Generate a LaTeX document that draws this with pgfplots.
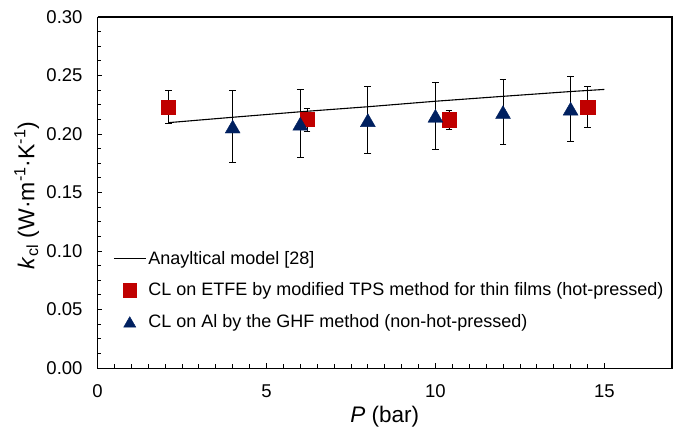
\documentclass[border=0pt]{standalone}
\usepackage{fontspec}
\setmainfont{Liberation Sans}
\usepackage{pgfplots}
\pgfplotsset{compat=1.18}
\definecolor{cred}{HTML}{C00000}
\definecolor{cblue}{HTML}{002060}
\pgfplotsset{
  linelegend/.style={legend image code/.code={\draw[##1] (0bp,0bp) -- (32bp,0bp);}},
  sqlegend/.style={legend image code/.code={\draw[##1, mark size=6.8bp] plot coordinates {(16bp,0bp)};}},
  trilegend/.style={legend image code/.code={\draw[##1, mark size=7bp] plot coordinates {(16bp,0bp)};}},
}
\begin{document}
\begin{tikzpicture}
\useasboundingbox (-97.5bp,-60bp) rectangle (583.5bp,368bp);
\begin{axis}[
  name=ax,
  at={(0,0)}, anchor=south west,
  scale only axis,
  width=574.5bp, height=351bp,
  xmin=0, xmax=17, ymin=0, ymax=0.30,
  xtick={0,5,10,15}, ytick={0,0.05,...,0.30},
  minor x tick num=9, minor y tick num=3,
  xtick pos=bottom, ytick pos=left, tick align=inside,
  major tick length=5bp, minor tick length=4bp,
  tick style={black, line width=0.8bp},
  axis line style={black, line width=0.9bp},
  /pgf/number format/assume math mode=true,
  ticklabel style={font=\fontsize{18.5bp}{21bp}\selectfont},
  yticklabel style={/pgf/number format/fixed, /pgf/number format/fixed zerofill, /pgf/number format/precision=2, xshift=-11.5bp},
  xticklabel style={yshift=-13bp},
  ylabel={\textit{k}\textsubscript{cl} (W·m\textsuperscript{-1}·K\textsuperscript{-1})},
  xlabel={\textit{P} (bar)},
  xlabel style={font=\fontsize{22.5bp}{26bp}\selectfont, at={(axis description cs:0.5,-0.14)}, anchor=center},
  ylabel style={font=\fontsize{23bp}{26bp}\selectfont, at={(axis description cs:-0.123,0.492)}, anchor=center},
  legend style={draw=none, fill=none, at={(axis description cs:0.027,0.339)}, anchor=north west,
    font=\fontsize{18bp}{21bp}\selectfont, row sep=13bp, inner sep=0pt,
    nodes={inner xsep=2bp, inner ysep=2bp}},
  legend cell align=left,
]
\addplot[black, line width=1.1bp, linelegend]
  coordinates {(2.1,0.2097) (4,0.2143) (6,0.2190) (8,0.2233) (10,0.2280) (12,0.2322) (14,0.2363) (15,0.2381)};
\addlegendentry{Anayltical model [28]}

\addplot[only marks, mark=square*, mark size=7.2bp, color=cred, fill=cred, sqlegend,
  error bars/.cd, y dir=both, y explicit,
  error bar style={black, line width=0.8bp},
  error mark options={rotate=90, mark size=3.4bp, black, line width=0.8bp}]
  coordinates {
  (2.1,0.2230) +- (0,0.0140)
  (6.2,0.2124) +- (0,0.0098)
  (10.4,0.2122) +- (0,0.0080)
  (14.5,0.2228) +- (0,0.0175)
  };
\addlegendentry{CL on ETFE by modified TPS method for thin films (hot-pressed)}

\addplot[only marks, mark=triangle*, mark size=8.6bp, color=cblue, fill=cblue,
  mark options={yshift=-2.1bp}, trilegend,
  error bars/.cd, y dir=both, y explicit,
  error bar style={black, line width=0.8bp},
  error mark options={rotate=90, mark size=3.4bp, black, line width=0.8bp}]
  coordinates {
  (4,0.2063) +- (0,0.0310)
  (6,0.2087) +- (0,0.0290)
  (8,0.2118) +- (0,0.0286)
  (10,0.2155) +- (0,0.0283)
  (12,0.2187) +- (0,0.0280)
  (14,0.2216) +- (0,0.0280)
  };
\addlegendentry{CL on Al by the GHF method (non-hot-pressed)}
\end{axis}
\draw[black, line width=1.2bp] (0bp,351bp) -- (574.5bp,351bp) -- (574.5bp,0bp);
\end{tikzpicture}
\end{document}
